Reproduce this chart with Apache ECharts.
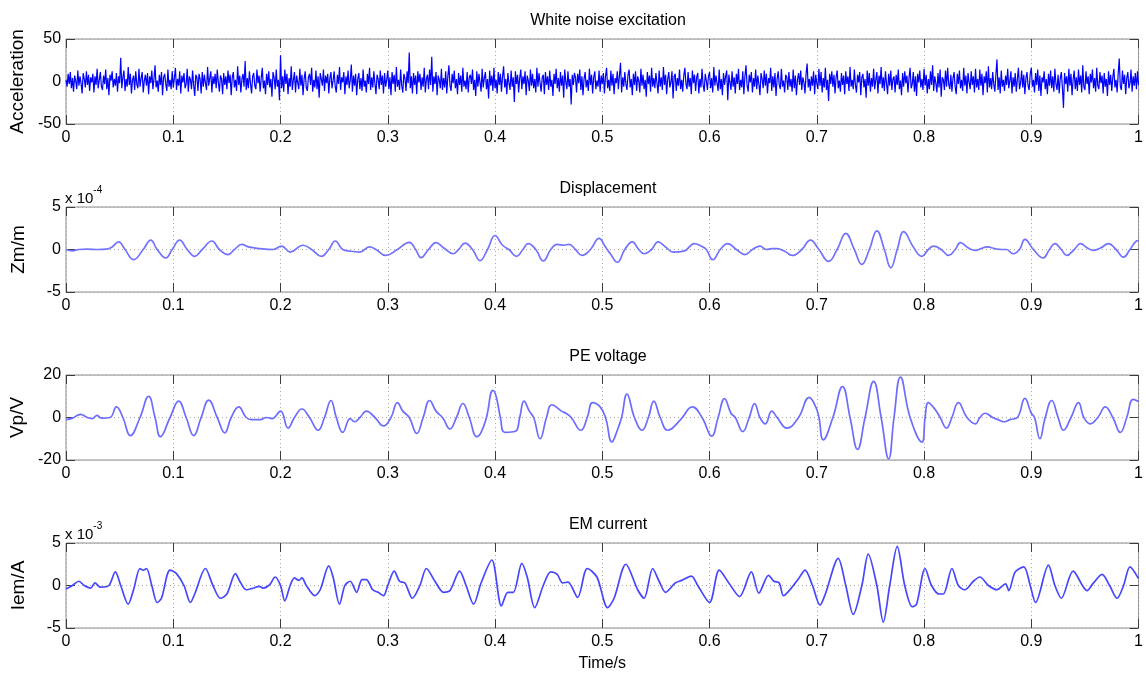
<!DOCTYPE html>
<html>
<head>
<meta charset="utf-8">
<script src="https://cdn.jsdelivr.net/npm/echarts@6/dist/echarts.min.js"></script>
<style>
  html, body { margin: 0; padding: 0; background: #fff; }
  #chart { width: 1146px; height: 676px; }
</style>
</head>
<body>
<div id="chart"></div>
<script>
// ---- Labels -------------------------------------------------------------
const panelTitles = ['White noise excitation', 'Displacement', 'PE voltage', 'EM current'];
const yAxisNames = ['Acceleration', 'Zm/m', 'Vp/V', 'Iem/A'];
const yExponents = [null, '-4', null, '-3'];
const xAxisName = 'Time/s';

// ---- Axis ranges: [min, max, interval] ----------------------------------
const xRange = [0, 1, 0.1];
const yRanges = [[-50, 50, 50], [-5, 5, 5], [-20, 20, 20], [-5, 5, 5]];

// ---- Acceleration of the white-noise base excitation, evenly sampled over 1 s
const accelDuration = 1;
const accelValues = [
  2,-6,9,-3,11,-8,4,-12,7,1,-9,13,-5,6,-2,-14,10,3,-7,12,-4,8,-11,5,-1,
  9,-13,6,-4,15,-8,2,11,-6,-10,7,-3,14,-9,4,-16,8,1,12,-7,3,-5,10,-12,6,
  -2,28,-8,5,13,-11,3,-6,17,-4,9,-14,2,7,-10,12,-3,-8,15,-6,4,11,-13,1,8,
  -5,10,-15,6,-2,13,-9,3,19,-7,1,-12,8,-4,11,-16,5,9,-3,-11,14,-6,2,-9,12,
  -7,4,16,-10,3,-5,12,-14,7,-1,10,-8,-3,15,-12,6,2,-9,13,-4,-17,8,5,-11,9,
  3,-14,11,-6,8,-2,-10,17,-5,4,12,-13,6,-3,9,-8,14,-1,-12,7,3,-15,10,-4,6,
  -9,13,-2,8,-16,5,11,-7,2,-11,18,-4,7,-13,3,9,-6,24,-10,4,-8,12,-3,-14,6,
  10,-5,-9,14,-2,7,-12,4,16,-8,1,-15,9,-4,12,-7,3,-18,11,5,-9,14,-6,2,-22,
  31,-8,6,-12,14,-3,9,-15,4,-6,18,-10,2,11,-13,7,-1,-9,15,-5,8,-16,3,12,-7,
  -11,5,9,-4,16,-12,2,-7,13,-9,6,-19,10,3,-5,14,-11,7,-2,9,-14,4,11,-8,1,
  12,-6,-13,8,-3,17,-10,5,-1,11,-15,6,-4,13,-8,2,20,-12,7,-5,9,-16,3,10,-9,
  4,-11,14,-6,1,-13,9,-3,16,-10,5,-7,12,-2,-15,8,3,-9,13,-4,7,-14,10,-6,2,
  13,-9,5,-16,11,-3,8,-12,17,-6,2,-10,14,-5,-13,9,4,-11,12,-2,34,-8,6,-14,10,
  -4,7,-15,12,-1,9,-10,5,-6,16,-13,3,8,-9,14,-4,29,-12,6,-3,11,-16,7,2,-8,
  15,-10,4,-7,12,-14,6,19,-5,-11,9,-2,13,-8,3,-15,10,-4,7,-12,16,-6,1,-9,11,
  -13,5,8,-3,14,-10,2,-17,12,-6,9,-1,-12,15,-7,4,11,-9,3,-20,13,-5,7,-11,16,
  -8,2,-14,11,-4,9,-12,6,18,-7,3,-15,10,-2,-10,13,-6,5,-24,12,-3,8,-13,4,14,
  -9,6,-3,12,-16,7,1,-11,14,-5,9,-8,3,-13,16,-6,10,-2,-12,5,8,-15,11,-4,6,
  -10,13,-6,2,-17,9,-3,15,-8,4,-12,11,-5,7,-19,14,-1,-9,12,-6,3,-27,8,-4,10,
  5,-13,9,-2,14,-10,6,-16,3,11,-7,2,-11,15,-4,8,-14,5,12,-9,1,-6,13,-12,7,
  -3,10,-14,6,16,-8,2,-11,13,-5,9,-15,4,-2,12,-9,7,22,-13,5,-6,11,-3,-10,8,
  14,-7,3,-16,9,-4,12,-11,6,1,-13,15,-5,8,-9,2,-18,11,-3,7,-12,16,-6,4,-8,
  10,-2,-14,13,-6,5,-10,17,-4,8,-15,3,11,-7,-1,12,-20,6,9,-11,4,-5,14,-9,2,
  -12,7,16,-3,-9,11,-6,4,-15,13,-2,8,-11,5,10,-14,3,-7,15,-4,-12,9,1,-10,6,
  11,-8,4,-13,17,-5,7,-2,-11,14,-9,3,-16,10,-4,6,13,-22,8,-1,-10,12,-6,5,-14,
  9,-3,15,-10,2,-7,12,-15,6,19,-4,-12,8,-1,11,-13,4,-6,14,-9,7,-3,-16,10,3,
  -8,13,-5,9,-14,4,-2,16,-11,6,-7,10,-17,3,12,-4,-9,15,-6,1,-13,8,5,-10,11,
  -6,3,-12,14,-8,7,-16,2,10,-4,13,-10,5,-1,-14,9,21,-7,3,-11,6,-5,12,-15,8,
  -2,-9,15,-5,11,-13,4,-7,16,-10,2,-23,9,-3,12,-6,8,-14,5,13,-8,1,-12,10,-4,
  7,-15,12,-3,6,-11,17,-6,2,-9,14,-4,-13,8,-1,11,-16,5,9,-7,3,-19,13,-5,10,
  -12,4,-6,15,-9,2,11,-14,7,-3,17,-8,5,-11,12,-2,-15,9,-5,13,-10,3,6,-13,8,
  -4,14,-9,1,-16,10,-6,12,-2,7,-13,4,16,-8,-3,11,-12,6,-17,9,-1,13,-7,3,-10,
  15,-5,8,-14,3,-9,12,-4,19,-11,6,-2,-13,10,-7,14,-18,5,2,-10,13,-6,16,-3,-9,
  8,-12,4,11,-6,-15,9,-3,13,-8,2,-11,16,-5,7,-14,10,-1,-9,12,-4,6,-13,15,-7,
  3,-10,14,-5,9,-16,6,-2,12,-13,18,-7,4,-9,11,-3,-12,8,26,-10,5,-14,13,-6,2,
  -11,7,-4,15,-8,1,12,-14,5,-6,10,-12,3,16,-9,-2,13,-7,8,-15,4,11,-5,-10,9,
  16,-6,2,-13,10,-4,14,-11,7,-17,5,-1,12,-9,3,-15,9,-5,13,-8,6,-12,15,-3,-10,
  8,-14,4,11,-7,-31,10,-3,6,-12,15,-5,9,-16,2,13,-9,5,-11,14,-4,7,-13,19,-6,
  -10,12,-3,6,-15,9,-1,14,-8,4,-12,16,-5,-9,11,-2,7,-14,10,-6,3,-17,12,-4,8,
  -11,5,15,-7,2,-13,9,27,-6,-10,13,-3,8,-15,4,11,-8,-2,14,-12,6,-5,10,-9,12,
  -4
];

// ---- Mass displacement, [time s, value x 1e-4 m] ------------------------
const displacement = [
  [0,0],[0.006,-0.15],[0.012,0],[0.02,0.05],[0.03,0],[0.038,0.05],[0.043,0.3],
  [0.049,0.9],[0.055,0],[0.063,-1.2],[0.072,0],[0.079,1.1],[0.085,0],[0.093,-1.0],
  [0.099,0],[0.106,1.1],[0.113,0],[0.120,-0.8],[0.127,0],[0.136,1.0],[0.143,0],
  [0.151,-0.6],[0.157,0],[0.164,0.6],[0.170,0.3],[0.181,0.1],[0.193,0],[0.201,0.4],
  [0.209,-0.3],[0.221,0.5],[0.229,0],[0.238,-0.8],[0.245,0],[0.251,1.0],[0.258,0],
  [0.265,-0.2],[0.274,-0.3],[0.283,0.3],[0.289,0],[0.298,-0.7],[0.309,0],[0.320,0.85],
  [0.326,0],[0.331,-0.95],[0.338,0],[0.345,0.8],[0.352,0.2],[0.361,-0.5],[0.366,0],
  [0.372,0.75],[0.379,0],[0.386,-1.3],[0.393,0],[0.400,1.65],[0.407,0.5],[0.413,0],
  [0.420,-0.8],[0.426,0],[0.431,0.7],[0.438,0],[0.445,-1.35],[0.452,0],[0.458,0.6],
  [0.464,0.5],[0.469,0.6],[0.475,0],[0.481,-0.7],[0.489,0],[0.497,1.3],[0.503,0.3],
  [0.508,-0.6],[0.514,-1.5],[0.521,0],[0.528,0.9],[0.534,0],[0.539,-0.5],[0.546,0],
  [0.552,0.9],[0.559,0.3],[0.566,-0.3],[0.576,-0.2],[0.586,0.7],[0.592,0.4],[0.597,0],
  [0.603,-1.2],[0.610,0],[0.617,0.7],[0.625,0],[0.633,-0.6],[0.640,0],[0.647,0.4],
  [0.653,0],[0.658,0.1],[0.663,0.1],[0.670,-0.2],[0.677,-0.7],[0.686,0],[0.694,1.1],
  [0.702,0],[0.711,-1.4],[0.719,0],[0.727,1.9],[0.735,0],[0.742,-1.75],[0.749,0],
  [0.756,2.2],[0.763,0],[0.769,-2.15],[0.775,0],[0.781,2.1],[0.790,0.3],[0.798,-0.8],
  [0.804,0],[0.809,0.4],[0.816,0],[0.823,-0.7],[0.829,0],[0.834,0.8],[0.841,0.2],
  [0.848,-0.1],[0.853,0.1],[0.859,0.3],[0.866,0.1],[0.872,0],[0.877,0],[0.883,-0.5],
  [0.889,0],[0.894,1.2],[0.902,0],[0.911,-1.0],[0.917,0],[0.922,0.7],[0.928,0],
  [0.933,-0.7],[0.940,0],[0.946,0.7],[0.952,0.2],[0.958,-0.1],[0.965,0.2],[0.972,0.7],
  [0.979,0],[0.986,-0.9],[0.992,0],[0.998,1.0],[1.0,1.05]
];

// ---- Piezoelectric output voltage, [time s, value V] ---------------------
const peVoltage = [
  [0,-1],[0.006,-0.3],[0.0135,1.5],[0.0197,0],[0.0243,-0.5],[0.029,1],[0.033,-0.3],
  [0.041,0],[0.047,5],[0.053,0],[0.060,-8.5],[0.069,0],[0.077,10],[0.083,0],[0.088,-9],
  [0.097,0],[0.105,7.7],[0.112,0],[0.119,-8.5],[0.126,0],[0.133,8.2],[0.141,0],
  [0.148,-7.2],[0.154,0],[0.161,5],[0.168,0],[0.173,-1],[0.181,-1],[0.187,0],
  [0.192,-0.5],[0.200,3],[0.207,-5],[0.213,0],[0.220,4],[0.227,0],[0.235,-6],[0.241,0],
  [0.247,8],[0.252,0],[0.258,-7],[0.265,-0.5],[0.269,-2],[0.274,0],[0.280,3],[0.288,0],
  [0.296,-4],[0.303,0],[0.309,7],[0.314,3],[0.320,0],[0.327,-7.5],[0.333,0],[0.339,8],
  [0.345,3],[0.351,0],[0.358,-5.4],[0.364,0],[0.370,6.6],[0.376,0],[0.383,-9],
  [0.387,-7],[0.392,0],[0.398,12.8],[0.401,10],[0.405,0],[0.409,-7],[0.419,-6.5],
  [0.423,0],[0.427,7.7],[0.432,3],[0.436,0],[0.442,-10],[0.448,0],[0.453,6],[0.462,3],
  [0.466,2],[0.471,0],[0.480,-6],[0.486,0],[0.491,7],[0.498,5],[0.503,0],[0.509,-11.5],
  [0.514,-6],[0.518,0],[0.523,11],[0.530,0],[0.537,-6],[0.543,0],[0.548,7.7],[0.554,0],
  [0.561,-6],[0.573,-1],[0.584,5],[0.593,0],[0.602,-8.8],[0.608,0],[0.614,8.9],
  [0.620,2],[0.624,0],[0.631,-6.6],[0.637,0],[0.642,6.5],[0.647,0],[0.652,-3],
  [0.658,3],[0.663,0],[0.672,-5],[0.683,0],[0.693,9.5],[0.699,5],[0.702,0],
  [0.706,-10.5],[0.715,0],[0.724,14.6],[0.731,0],[0.738,-15],[0.745,0],[0.753,17],
  [0.760,0],[0.767,-19.5],[0.772,0],[0.778,19],[0.787,0],[0.798,-11.5],[0.801,0],
  [0.804,7],[0.810,4],[0.815,0],[0.821,-5],[0.826,0],[0.832,7],[0.840,0],[0.848,-3],
  [0.852,0],[0.857,2],[0.864,0],[0.869,-1],[0.875,-2],[0.880,-1],[0.887,0],[0.894,9],
  [0.900,2],[0.903,0],[0.908,-10],[0.913,0],[0.919,8],[0.925,0],[0.930,-6],[0.937,0],
  [0.944,7],[0.949,0],[0.955,-3],[0.962,0],[0.969,5],[0.976,0],[0.983,-7],[0.989,0],
  [0.995,8.5],[1.0,7.5]
];

// ---- Electromagnetic coil current, [time s, value x 1e-3 A] --------------
const emCurrent = [
  [0,-0.4],[0.006,0],[0.012,0.5],[0.017,0],[0.023,-0.3],[0.027,0.3],[0.032,-0.2],
  [0.040,0],[0.046,1.6],[0.051,0],[0.058,-2.2],[0.063,-0.5],[0.069,2.0],[0.072,1.8],
  [0.075,2.0],[0.080,0],[0.085,-2.0],[0.089,-1.5],[0.097,1.8],[0.103,1.4],[0.110,0],
  [0.116,-2.0],[0.120,-1.0],[0.130,2.0],[0.137,0],[0.144,-1.5],[0.150,-1.0],[0.158,1.4],
  [0.162,0.5],[0.168,-0.5],[0.175,-0.3],[0.180,-0.1],[0.184,-0.3],[0.190,0.1],
  [0.195,1.0],[0.200,0],[0.204,-1.8],[0.209,0],[0.213,0.9],[0.217,0.6],[0.220,0.9],
  [0.224,0],[0.232,-1.2],[0.237,-0.5],[0.245,2.3],[0.249,1.0],[0.255,-2.2],[0.260,0],
  [0.265,0.5],[0.271,-0.8],[0.276,0.7],[0.280,0.7],[0.286,-0.5],[0.291,-0.8],
  [0.296,-1.2],[0.300,0],[0.306,1.7],[0.311,0.5],[0.316,0.3],[0.323,-1.5],[0.330,0],
  [0.336,2.0],[0.344,0.5],[0.352,-0.8],[0.358,-0.6],[0.367,1.7],[0.373,0],[0.380,-2.2],
  [0.387,0.3],[0.397,3.0],[0.406,-2.4],[0.412,-0.8],[0.417,-0.8],[0.425,2.6],[0.430,1.0],
  [0.437,-2.6],[0.445,0],[0.452,1.6],[0.458,1.3],[0.463,0.3],[0.468,0.4],[0.477,-1.4],
  [0.486,2.0],[0.495,1.0],[0.505,-2.6],[0.511,-1.5],[0.522,2.5],[0.533,-0.5],
  [0.539,-1.5],[0.547,2.0],[0.553,0.5],[0.559,-0.8],[0.568,0.3],[0.574,0.6],[0.583,1.1],
  [0.589,0],[0.600,-2.0],[0.609,1.8],[0.618,0.3],[0.628,-1.3],[0.639,1.6],[0.646,-0.9],
  [0.655,1.2],[0.660,0.5],[0.665,0.3],[0.669,-1.2],[0.675,-0.5],[0.683,0.8],[0.689,1.8],
  [0.696,0],[0.703,-2.3],[0.708,-1.0],[0.720,3.2],[0.727,0],[0.734,-3.4],[0.742,0],
  [0.748,3.7],[0.756,0],[0.762,-4.3],[0.768,0],[0.775,4.6],[0.782,0],[0.789,-2.5],
  [0.793,-2.2],[0.801,2.0],[0.807,0],[0.814,-1.0],[0.818,-1.0],[0.826,2.0],[0.832,0],
  [0.838,-0.5],[0.846,0.5],[0.852,1.0],[0.860,0],[0.868,-0.5],[0.876,0.2],[0.879,-0.6],
  [0.885,1.6],[0.893,2.2],[0.899,0],[0.904,-2.0],[0.916,2.4],[0.922,0],[0.928,-1.5],
  [0.939,1.7],[0.952,-0.6],[0.958,0.3],[0.966,1.3],[0.973,0],[0.980,-1.5],[0.986,0],
  [0.992,2.2],[1.0,0.8]
];

// ---- Layout and styling -------------------------------------------------
const FONT = 'Liberation Sans, Arial, sans-serif';
const plotLeft = 66, plotWidth = 1074, plotHeight = 85;
const plotTops = [39, 207, 375, 543];
const boxColor = '#8a8a8a';
const tickColor = '#3c3c3c';
const gridDots = { color: '#a8a8a8', width: 1, type: [1, 3] };

const accelStep = accelDuration / (accelValues.length - 1);
const accelSeries = accelValues.map((v, i) => [i * accelStep, v]);
const seriesData = [accelSeries, displacement, peVoltage, emCurrent];
const lineStyles = [
  { color: '#0000ff', width: 1.2 },
  { color: '#7272ff', width: 1.7 },
  { color: '#6c6cff', width: 1.7 },
  { color: '#4646ff', width: 1.7 }
];
const smoothing = [false, 0.45, 0.45, 0.3];

const fmtX = v => String(Math.round(v * 10) / 10);

const grid = [], xAxis = [], yAxis = [], series = [], title = [], graphic = [];

plotTops.forEach((top, i) => {
  grid.push({ left: plotLeft, top, width: plotWidth, height: plotHeight,
              show: true, borderColor: boxColor, borderWidth: 1 });

  const [ymin, ymax, yint] = yRanges[i];
  const tick = { show: true, inside: true, length: 9, lineStyle: { color: tickColor, width: 1 } };
  const noLine = { show: false, onZero: false };

  // bottom axis (labelled) and top axis (ticks only)
  xAxis.push({
    type: 'value', gridIndex: i, position: 'bottom',
    min: xRange[0], max: xRange[1], interval: xRange[2],
    axisLine: noLine, axisTick: tick,
    axisLabel: { color: '#000', fontFamily: FONT, fontSize: 16, margin: 6, formatter: fmtX },
    splitLine: { show: true, lineStyle: gridDots },
    name: i === 3 ? xAxisName : '', nameLocation: 'middle', nameGap: 28,
    nameTextStyle: { color: '#000', fontFamily: FONT, fontSize: 16 }
  });
  xAxis.push({
    type: 'value', gridIndex: i, position: 'top',
    min: xRange[0], max: xRange[1], interval: xRange[2],
    axisLine: noLine, axisTick: tick, axisLabel: { show: false },
    splitLine: { show: false }
  });

  // left axis (labelled) and right axis (ticks only)
  yAxis.push({
    type: 'value', gridIndex: i, position: 'left',
    min: ymin, max: ymax, interval: yint,
    axisLine: noLine, axisTick: tick,
    axisLabel: { color: '#000', fontFamily: FONT, fontSize: 16, margin: 5 },
    splitLine: { show: true, lineStyle: gridDots },
    name: yAxisNames[i], nameLocation: 'middle', nameRotate: 90, nameGap: 38,
    nameTextStyle: { color: '#000', fontFamily: FONT, fontSize: 19 }
  });
  yAxis.push({
    type: 'value', gridIndex: i, position: 'right',
    min: ymin, max: ymax, interval: yint,
    axisLine: noLine, axisTick: tick, axisLabel: { show: false },
    splitLine: { show: false }
  });

  series.push({
    type: 'line', xAxisIndex: 2 * i, yAxisIndex: 2 * i,
    data: seriesData[i], showSymbol: false, symbol: 'none',
    smooth: smoothing[i],
    lineStyle: lineStyles[i], silent: true, animation: false, z: 3
  });

  title.push({
    text: panelTitles[i], left: plotLeft + plotWidth / 2, textAlign: 'center',
    top: top - 31,
    textStyle: { color: '#000', fontFamily: FONT, fontSize: 16, fontWeight: 'normal' }
  });

  if (yExponents[i]) {
    graphic.push({
      type: 'text', left: plotLeft - 1, top: top - 22,
      style: {
        text: '{b|x 10}{s|' + yExponents[i] + '}',
        rich: {
          b: { fontFamily: FONT, fontSize: 15, fill: '#000', verticalAlign: 'bottom', lineHeight: 21 },
          s: { fontFamily: FONT, fontSize: 10, fill: '#000', verticalAlign: 'top', lineHeight: 21 }
        }
      }
    });
  }
});

const chart = echarts.init(document.getElementById('chart'), null, { renderer: 'canvas' });
chart.setOption({
  backgroundColor: '#fff',
  animation: false,
  title, grid, xAxis, yAxis, series, graphic
});
</script>
</body>
</html>
